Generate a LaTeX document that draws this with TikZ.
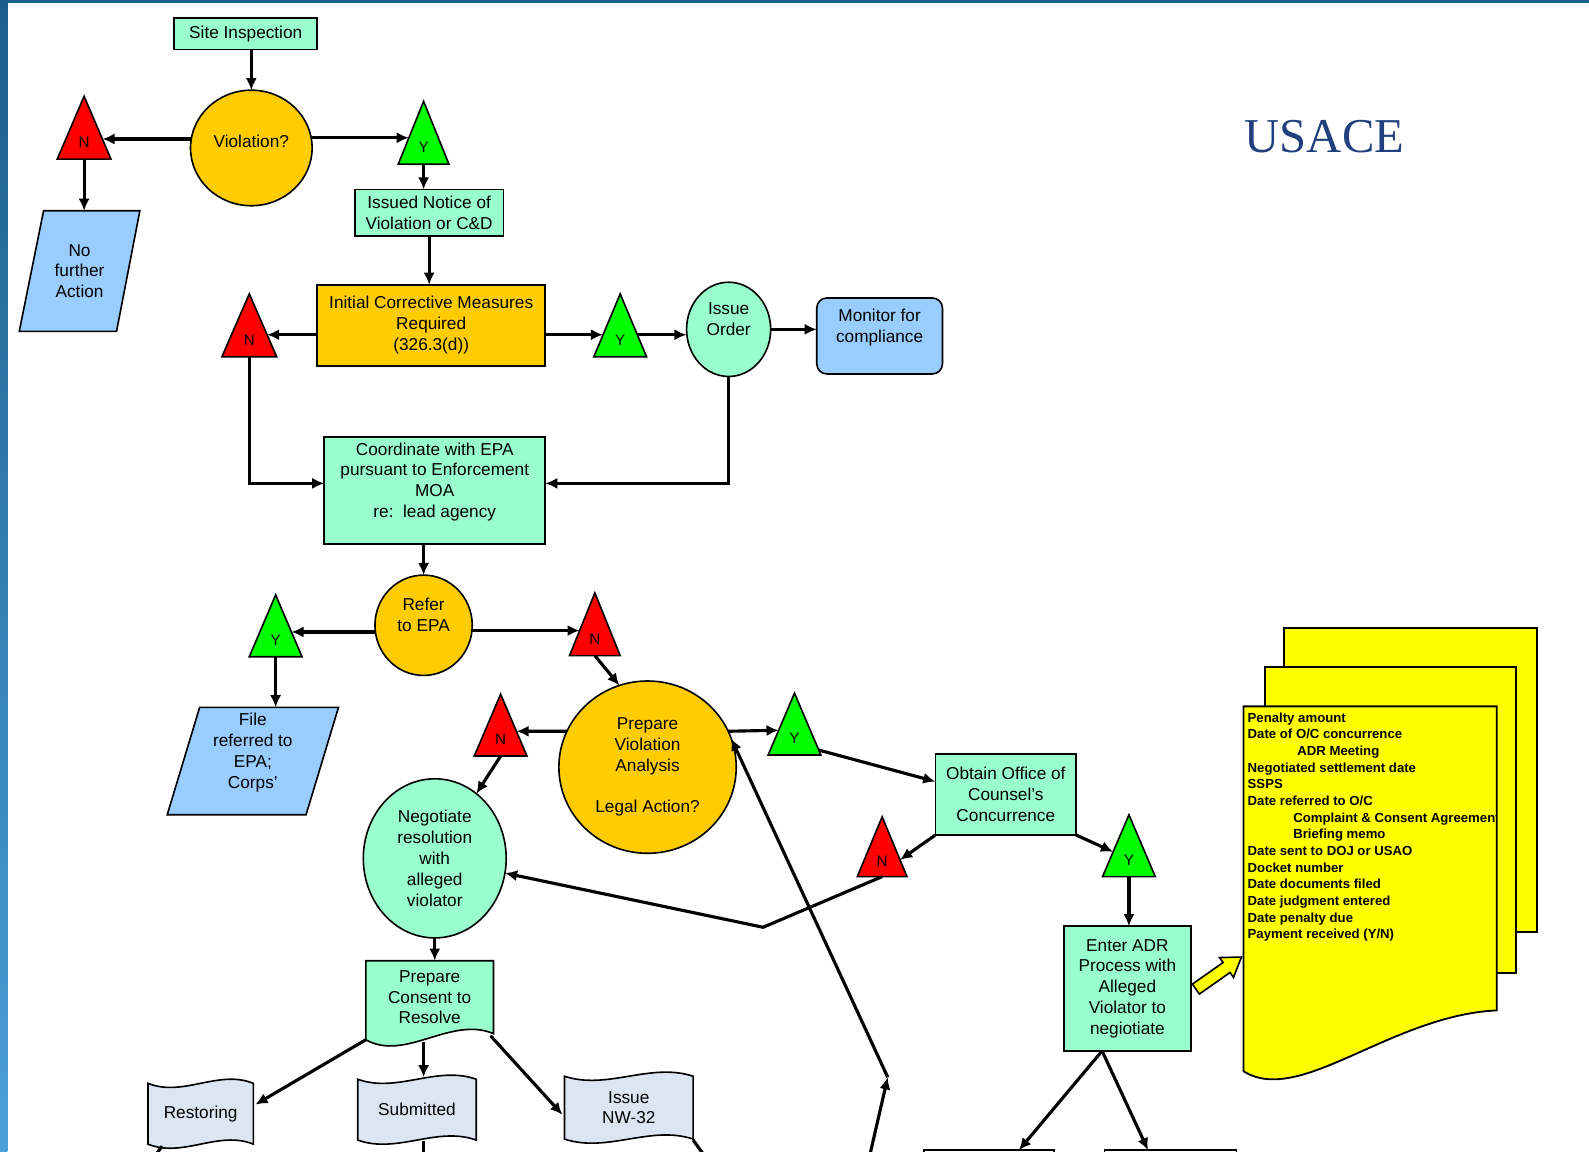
\documentclass[tikz,border=0pt]{standalone}
\usepackage{fontspec}
\setmainfont{Liberation Sans}
\newfontfamily\usacefont{Liberation Serif}
\usetikzlibrary{calc,arrows.meta,backgrounds,shapes.geometric}
\definecolor{mint}{HTML}{99FFCC}
\definecolor{gold}{HTML}{FFCC00}
\definecolor{tred}{HTML}{FF0000}
\definecolor{tgreen}{HTML}{00FF00}
\definecolor{pblue}{HTML}{99CCFF}
\definecolor{flagc}{HTML}{DCE6F2}
\definecolor{docy}{HTML}{FFFF00}
\definecolor{frametop}{HTML}{1C5E8B}
\definecolor{framebot}{HTML}{4AA0D8}
\definecolor{usacec}{HTML}{213F7D}
\newcommand\trilbl[1]{\raisebox{-19.5pt}[0pt][0pt]{#1}}
\begin{document}
\begin{tikzpicture}[x=1pt,y=-1pt,
  lbl/.style={font=\fontsize{17}{20.5}\selectfont, align=center, text=black},
  boxn/.style={lbl, draw=black, line width=1.6pt, inner sep=1pt, outer sep=0pt},
  rectn/.style={boxn, rectangle, fill=mint},
  elln/.style={boxn, ellipse, inner sep=0pt},
  trin/.style={rectangle, inner sep=0pt, outer sep=0pt, font=\fontsize{15}{16}\selectfont},
  ghost/.style={lbl, rectangle, inner sep=0pt, outer sep=0pt},
  arr/.style={line width=3.1pt, -{Latex[length=12pt,width=11pt]}},
  ln/.style={line width=3.1pt},
  shp/.style={draw=black, line width=1.6pt},
]
\useasboundingbox (0,0) rectangle (1568,1136);
\begin{pgfonlayer}{background}
  \fill[white] (0,0) rectangle (1568,1136);
\end{pgfonlayer}

% ---------- nodes ----------
\node[rectn, minimum width=141pt, minimum height=31pt] (site) at (242.5,33.5) {Site Inspection};
\node[elln, fill=gold, minimum width=120pt, minimum height=114pt] (viol) at (248,146) {Violation?\\[-8pt]\mbox{}};
\node[trin, minimum width=53pt, minimum height=62pt] (n1) at (83,126) {\trilbl{N}};
\node[trin, minimum width=50pt, minimum height=62pt] (y1) at (418,131) {\trilbl{Y}};
\node[ghost, minimum width=119pt, minimum height=119pt] (noact) at (78.5,267.5) {No\\further\\Action};
\node[rectn, minimum width=147pt, minimum height=46pt] (notice) at (423.5,210) {Issued Notice of\\Violation or C\&D};
\node[rectn, fill=gold, minimum width=225pt, minimum height=80pt] (icm) at (425.5,321) {Initial Corrective Measures\\Required\\(326.3(d))};
\node[trin, minimum width=54pt, minimum height=62pt] (n2) at (246,321) {\trilbl{N}};
\node[trin, minimum width=52pt, minimum height=62pt] (y2) at (612,321) {\trilbl{Y}};
\node[elln, fill=mint, minimum width=83pt, minimum height=93pt] (order) at (719,325) {Issue\\Order\\\mbox{}};
\node[boxn, rectangle, rounded corners=10pt, fill=pblue, minimum width=124pt, minimum height=75pt] (monitor) at (868,331.5) {Monitor for\\compliance\\\mbox{}};
\node[rectn, minimum width=218pt, minimum height=106pt] (coord) at (429,484) {Coordinate with EPA\\pursuant to Enforcement\\MOA\\re:~~lead agency\\\mbox{}};
\node[elln, fill=gold, minimum width=96pt, minimum height=99pt] (refer) at (418,617) {Refer\\to EPA\\\mbox{}};
\node[trin, minimum width=52pt, minimum height=61pt] (y3) at (272,617.5) {\trilbl{Y}};
\node[trin, minimum width=50pt, minimum height=62pt] (n3) at (587,616) {\trilbl{N}};
\node[ghost, minimum width=169pt, minimum height=106pt] (file) at (249.5,751) {File\\referred to\\EPA;\\Corps'\\\mbox{}};
\node[elln, fill=gold, minimum width=175pt, minimum height=170pt] (pva) at (639,757) {Prepare\\Violation\\Analysis\\[20pt]Legal Action?};
\node[trin, minimum width=52pt, minimum height=61pt] (n4) at (494,715.5) {\trilbl{N}};
\node[trin, minimum width=52pt, minimum height=61pt] (y4) at (784,714.5) {\trilbl{Y}};
\node[elln, fill=mint, minimum width=141pt, minimum height=157pt] (neg) at (429,847) {Negotiate\\resolution\\with\\alleged\\violator};
\node[rectn, minimum width=139pt, minimum height=80pt] (obtain) at (992.5,784) {Obtain Office of\\Counsel's\\Concurrence};
\node[trin, minimum width=49pt, minimum height=59pt] (n5) at (870.5,835.5) {\trilbl{N}};
\node[trin, minimum width=52pt, minimum height=61pt] (y5) at (1114,834.5) {\trilbl{Y}};
\node[rectn, minimum width=125pt, minimum height=123pt] (adr) at (1112.5,975.5) {Enter ADR\\Process with\\Alleged\\Violator to\\negiotiate};
\node[ghost, minimum width=126pt, minimum height=72pt] (consent) at (424,984) {Prepare\\Consent to\\Resolve};
\node[ghost, minimum width=104pt, minimum height=68pt] (restoring) at (198,1099) {Restoring};
\node[ghost, minimum width=117pt, minimum height=68pt] (submitted) at (411.5,1095) {Submitted};
\node[ghost, minimum width=127pt, minimum height=70pt] (issue) at (620.5,1093) {Issue\\NW-32};
\node[draw=black, line width=1.6pt, fill=white, minimum width=128pt, minimum height=60pt, outer sep=0pt] (boxa) at (976,1165) {};
\node[draw=black, line width=1.6pt, fill=white, minimum width=130pt, minimum height=60pt, outer sep=0pt] (boxb) at (1155,1165) {};
\node[rectangle, inner sep=0pt, outer sep=0pt, minimum width=250pt, minimum height=300pt] (docfront) at (1352,847) {};
\begin{scope}
  \clip (1227,690) rectangle (1476,1070);
  \node[anchor=north west, inner sep=0pt, align=left, font=\bfseries\fontsize{13}{16.45}\selectfont] (doctext) at (1231,703)
  {Penalty amount\\Date of O/C concurrence\\\hspace*{49pt}ADR Meeting\\Negotiated settlement date\\SSPS\\Date referred to O/C\\\hspace*{45pt}Complaint \& Consent Agreement\\\hspace*{45pt}Briefing memo\\Date sent to DOJ or USAO\\Docket number\\Date documents filed\\Date judgment entered\\Date penalty due\\Payment received (Y/N)};
\end{scope}
\node[font=\usacefont\fontsize{48}{50}\selectfont, text=usacec, inner sep=0pt] (usace) at (1307,135) {USACE};

% ---------- shapes behind ----------
\begin{pgfonlayer}{background}
  \filldraw[shp, line width=1.8pt, fill=docy] (1267,620) rectangle (1517,920);
  \filldraw[shp, line width=1.8pt, fill=docy] (1248,658) rectangle (1496,960);
  \filldraw[shp, line width=1.8pt, fill=docy] (docfront.north west) -- (docfront.north east) -- (docfront.south east)
     .. controls ($(docfront.south east)+(-105,5)$) and ($(docfront.south west)+(55,95)$) .. ($(docfront.south west)+(0,60)$) -- cycle;
  \foreach \t/\c in {n1/tred,y1/tgreen,n2/tred,y2/tgreen,y3/tgreen,n3/tred,n4/tred,y4/tgreen,n5/tred,y5/tgreen}{
    \filldraw[shp, fill=\c] (\t.south west) -- (\t.south east) -- (\t.north) -- cycle;
  }
  \filldraw[shp, fill=pblue] ($(noact.north west)+(24,0)$) -- (noact.north east) -- ($(noact.south east)+(-23,0)$) -- (noact.south west) -- cycle;
  \filldraw[shp, fill=pblue] ($(file.north west)+(32,0)$) -- (file.north east) -- ($(file.south east)+(-32,0)$) -- (file.south west) -- cycle;
  \filldraw[shp, fill=mint] (consent.north west) -- (consent.north east) -- (consent.south east)
     .. controls ($(consent.south)+(21,-18)$) and ($(consent.south)+(-24,28)$) .. ($(consent.south west)+(0,6)$) -- cycle;
  \foreach \f in {restoring,submitted,issue}{
    \filldraw[shp, fill=flagc] ($(\f.north west)+(0,4)$)
      .. controls ($(\f.north west)!0.333!(\f.north east)+(0,18)$) and ($(\f.north west)!0.667!(\f.north east)+(0,-10)$) .. ($(\f.north east)+(0,4)$)
      -- ($(\f.south east)+(0,-4)$)
      .. controls ($(\f.south west)!0.667!(\f.south east)+(0,-18)$) and ($(\f.south west)!0.333!(\f.south east)+(0,10)$) .. ($(\f.south west)+(0,-4)$) -- cycle;
  }
  \filldraw[shp, fill=docy] (1183.5,980.9) -- (1213.8,959.6) -- (1217.2,964.5) -- (1225,944.4) -- (1203.4,944.9) -- (1206.9,949.8) -- (1176.6,971.1) -- cycle;
\end{pgfonlayer}

% ---------- connectors ----------
\draw[arr] (site.south -| viol.north) -- (viol.north);
\coordinate (p1) at ($(n1.north)!0.68!(n1.south east)$);
\draw[arr] (viol.west |- p1) -- (p1);
\coordinate (p2) at ($(y1.north)!0.58!(y1.south west)$);
\draw[arr] (viol.east |- p2) -- (p2);
\draw[arr] (n1.south) -- (n1.south |- noact.north);
\draw[arr] (y1.south) -- (y1.south |- notice.north);
\draw[arr] (notice.south) -- (notice.south |- icm.north);
\coordinate (p3) at ($(n2.north)!0.65!(n2.south east)$);
\draw[arr] (icm.west |- p3) -- (p3);
\draw[arr] (n2.south) |- ($(coord.west)+(0,-7)$);
\coordinate (p4) at ($(y2.north)!0.65!(y2.south west)$);
\draw[arr] (icm.east |- p4) -- (p4);
\coordinate (p5) at ($(y2.north)!0.65!(y2.south east)$);
\draw[arr] (p5) -- (order.west |- p5);
\draw[arr] (order.east) -- (monitor.west |- order.east);
\draw[arr] (order.south) |- ($(coord.east)+(0,-7)$);
\draw[arr] (coord.south -| refer.north) -- (refer.north);
\coordinate (p6) at ($(y3.north)!0.6!(y3.south east)$);
\draw[arr] (refer.west |- p6) -- (p6);
\coordinate (p7) at ($(n3.north)!0.6!(n3.south west)$);
\draw[arr] (refer.east |- p7) -- (p7);
\draw[arr] (y3.south) -- (y3.south |- file.north);
\draw[arr] (n3.south) -- (pva.109);
\coordinate (p8) at ($(n4.north)!0.6!(n4.south east)$);
\draw[arr] (pva.156) -- (p8);
\draw[arr] (n4.south) -- (neg);
\coordinate (p9) at ($(y4.north)!0.6!(y4.south west)$);
\draw[arr] (pva.24) -- (p9);
\draw[arr] ($(y4.north)!0.92!(y4.south east)$) -- ($(obtain.north west)!0.34!(obtain.south west)$);
\draw[arr] (obtain.south west) -- ($(n5.north)!0.72!(n5.south east)$);
\draw[arr] (obtain.south east) -- ($(y5.north)!0.6!(y5.south west)$);
\draw[arr] (y5.south) -- (y5.south |- adr.north);
\coordinate (bend) at (753,915);
\draw[arr] (n5.south) -- (bend) -- (neg);
\coordinate (offj) at (856,1150);
\coordinate (j1) at (876,1063);
\draw[arr] (offj) -- (j1);
\draw[arr] (j1) -- (pva.19);
\draw[arr] (neg.south) -- (neg.south |- consent.north);
\draw[arr] ($(consent.south west)+(0,6)$) -- ($(restoring.east)+(2,-9)$);
\draw[arr] ($(consent.south)+(-6,8)$) -- ($(submitted.north)+(6.5,2)$);
\draw[arr] ($(consent.south east)+(-3,2)$) -- ($(issue.west)+(-2,7)$);
\draw[arr] ($(adr.south west)!0.3!(adr.south east)$) -- ($(boxa.north west)!0.73!(boxa.north east)$);
\draw[arr] ($(adr.south west)!0.3!(adr.south east)$) -- ($(boxb.north west)!0.33!(boxb.north east)$);
\coordinate (offr) at (146,1150);
\coordinate (offs) at (418,1150);
\coordinate (offi) at (702,1150);
\draw[ln] ($(restoring.south west)+(14,-2)$) -- (offr);
\draw[ln] ($(submitted.south)+(6.5,-3)$) -- (offs);
\draw[ln] ($(issue.south east)+(0,-3)$) -- (offi);

% ---------- frame ----------
\fill[frametop] (0,0) rectangle (1568,2.7);
\shade[top color=frametop, bottom color=framebot] (0,0) rectangle (7.2,1136);
\end{tikzpicture}
\end{document}
